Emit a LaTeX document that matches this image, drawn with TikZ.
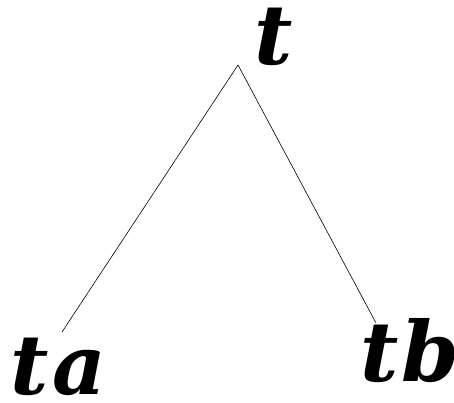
\documentclass[tikz,border=0pt]{standalone}
\usepackage{fontspec}
\setmainfont{DejaVu Serif}
\usetikzlibrary{positioning}

\begin{document}
\begin{tikzpicture}[x=1pt, y=-1pt,
    every node/.style={font=\fontsize{83}{83}\selectfont\bfseries\itshape, inner sep=0pt},
    branch/.style={line width=0.6pt}]
  \useasboundingbox (0,0) rectangle (454,403);

  \node[anchor=base west] (t) at (254,65) {t};
  \node[anchor=base west] (ta) at (10,394) {t\kern4pt a};
  \node[anchor=base west] (tb) at (360,381) {t\kern3pt b};

  % ends of the branches
  \coordinate (top) at (238,65);
  \coordinate (lend) at (62,332);
  \coordinate (rend) at (376,323);

  \draw[branch] (top) -- (lend);
  \draw[branch] (top) -- (rend);
\end{tikzpicture}
\end{document}
